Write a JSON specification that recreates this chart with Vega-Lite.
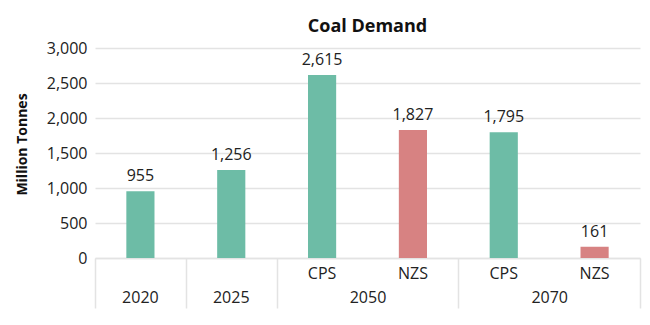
{
  "$schema": "https://vega.github.io/schema/vega-lite/v6.json",
  "autosize": {"type": "none"},
  "width": 545,
  "height": 210,
  "padding": {"left": 95, "top": 48, "right": 10, "bottom": 67},
  "background": "white",
  "config": {
    "font": "Open Sans",
    "view": {"stroke": null},
    "axis": {"labelFont": "Open Sans", "titleFont": "Open Sans"}
  },
  "title": {
    "text": "Coal Demand",
    "fontSize": 18,
    "fontWeight": "bold",
    "color": "#111111",
    "anchor": "middle",
    "frame": "group",
    "baseline": "bottom",
    "offset": 13,
    "dy": 27
  },
  "data": {
    "values": [
      {"key": "2020", "scenario": "History", "value": 955},
      {"key": "2025", "scenario": "History", "value": 1256},
      {"key": "2050 CPS", "scenario": "CPS", "value": 2615},
      {"key": "2050 NZS", "scenario": "NZS", "value": 1827},
      {"key": "2070 CPS", "scenario": "CPS", "value": 1795},
      {"key": "2070 NZS", "scenario": "NZS", "value": 161}
    ]
  },
  "encoding": {
    "y": {
      "field": "value",
      "type": "quantitative",
      "scale": {"domain": [0, 3000]},
      "axis": {
        "title": "Million Tonnes",
        "titleFontSize": 14,
        "titleFontWeight": "bold",
        "titleColor": "#111111",
        "titleAngle": 270,
        "titleX": -73,
        "titleY": 96,
        "titleAlign": "center",
        "titleBaseline": "middle",
        "values": [0, 500, 1000, 1500, 2000, 2500, 3000],
        "format": ",.0f",
        "labelFontSize": 16,
        "labelColor": "#222222",
        "labelPadding": 8,
        "ticks": false,
        "domain": false,
        "grid": true,
        "gridColor": "#e3e3e3",
        "gridWidth": 1.5
      }
    }
  },
  "layer": [
    {
      "mark": {"type": "bar", "width": {"band": 0.31}},
      "encoding": {
        "x": {
          "field": "key",
          "type": "nominal",
          "sort": null,
          "scale": {"paddingInner": 0, "paddingOuter": 0},
          "axis": {
            "orient": "bottom",
            "title": null,
            "labelAngle": 0,
            "labelExpr": "indexof(datum.value, ' ') > 0 ? split(datum.value, ' ')[1] : ['', datum.value]",
            "labelFontSize": 16,
            "labelColor": "#222222",
            "labelBaseline": "top",
            "labelLineHeight": 24,
            "labelPadding": 7,
            "ticks": false,
            "domain": true,
            "domainColor": "#e3e3e3",
            "domainWidth": 1.5,
            "grid": false
          }
        },
        "color": {
          "field": "scenario",
          "type": "nominal",
          "scale": {"domain": ["History", "CPS", "NZS"], "range": ["#6dbca6", "#6dbca6", "#d78282"]},
          "legend": null
        }
      }
    },
    {
      "mark": {"type": "text", "baseline": "bottom", "dy": -7, "fontSize": 16, "color": "#222222"},
      "encoding": {
        "x": {
          "field": "key",
          "type": "nominal",
          "sort": null,
          "axis": {
            "orient": "bottom",
            "title": null,
            "values": ["2020", "2025", "2050 NZS", "2070 NZS"],
            "labelExpr": "isString(datum.value) && indexof(datum.value, 'NZS') > 0 ? split(datum.value, ' ')[0] : ''",
            "labelAngle": 0,
            "labelFontSize": 16,
            "labelColor": "#222222",
            "labelBaseline": "middle",
            "labelPadding": -11,
            "labelOffset": -45.4,
            "tickBand": "extent",
            "ticks": true,
            "tickSize": 50,
            "tickColor": "#e3e3e3",
            "tickWidth": 1.5,
            "domain": false,
            "grid": false
          }
        },
        "text": {"field": "value", "type": "quantitative", "format": ","}
      }
    }
  ],
  "resolve": {"axis": {"x": "independent"}}
}
